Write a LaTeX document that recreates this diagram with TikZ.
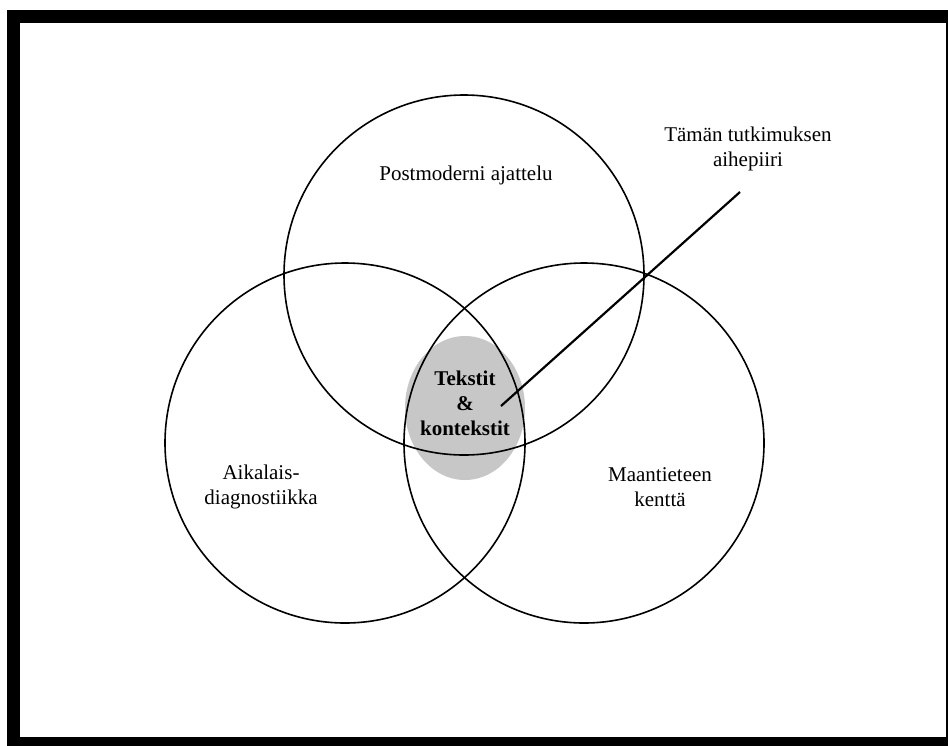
\documentclass[tikz,border=0pt]{standalone}
\usepackage{fontspec}
\setmainfont{Liberation Serif}
\usetikzlibrary{shapes.geometric}

\begin{document}
\begin{tikzpicture}[x=0.5pt,y=-0.5pt,
    piiri/.style={circle,draw,line width=0.8pt,minimum size=180pt,inner sep=0pt},
    teksti/.style={align=center,font=\fontsize{10.5}{12.5}\selectfont}]
                \useasboundingbox (0,0) rectangle (948,745);
                \fill[black] (7,10) rectangle (970,770);
                \fill[white] (20,23) rectangle (946,737);
                \node[ellipse,fill=black!22,minimum width=60pt,minimum height=72pt] (alue) at (465,408) {};
                \node[piiri] (ylä) at (464,275) {};
                \node[piiri] (vasen) at (345,443) {};
                \node[piiri] (oikea) at (584,443) {};
                \coordinate (alku) at (740,192);
                \coordinate (loppu) at (501,406);
                \draw[line width=1.1pt] (alku) -- (loppu);
                \node[teksti] (post) at (466,175) {Postmoderni ajattelu};
                \node[teksti] (aihe) at (748,149) {Tämän tutkimuksen\\aihepiiri};
                \node[teksti] (aika) at (261,487) {Aikalais-\\diagnostiikka};
                \node[teksti] (maa) at (660,487) {Maantieteen\\kenttä};
                \node[teksti,font=\fontsize{10.5}{12.5}\selectfont\bfseries] (keski) at (465,403) {Tekstit\\\&\\kontekstit};
            \end{tikzpicture}
\end{document}
